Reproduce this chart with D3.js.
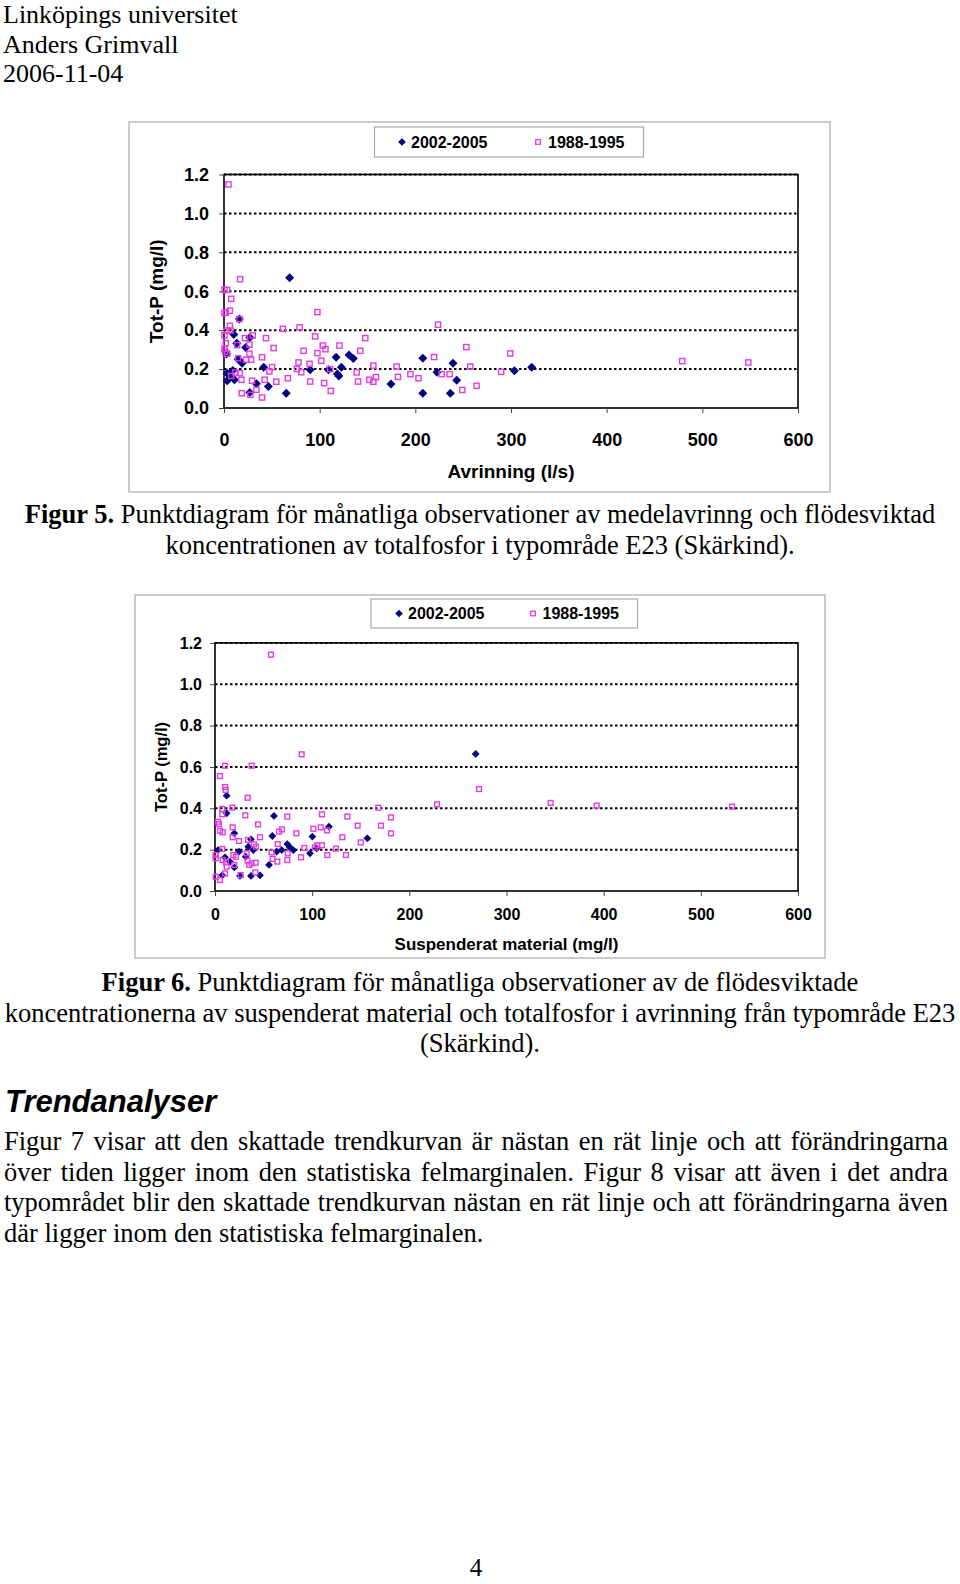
<!DOCTYPE html>
<html lang="sv">
<head>
<meta charset="UTF-8">
<title>Figur 5 och 6 - Skärkind</title>
<script src="https://d3js.org/d3.v7.min.js"></script>
<style>
  body { margin: 0; background: #fff; width: 960px; height: 1584px; position: relative; overflow: hidden; }
  svg { position: absolute; left: 0; top: 0; }
  .line {
    position: absolute; left: 4px; width: 944px;
    font: 26.5px 'Liberation Serif', 'Times New Roman', serif;
    line-height: 30px; height: 30px; white-space: nowrap;
    text-align: justify; text-align-last: justify; color: #000;
  }
  .line.last { text-align-last: left; }
</style>
</head>
<body>
<div id="page"></div>
<script>
// axis ticks and legend
const xTicks = [0, 100, 200, 300, 400, 500, 600];
const yTicks = [0, 0.2, 0.4, 0.6, 0.8, 1.0, 1.2];
const seriesNames = ["2002-2005", "1988-1995"];

// Figur 5: avrinning (l/s) vs Tot-P (mg/l)
const fig5Recent = [[3.3,0.140],[6.8,0.162],[9.2,0.193],[10.9,0.145],[3.3,0.179],[2.6,0.277],[10.2,0.378],[16.1,0.457],
  [13.3,0.333],[22.7,0.311],[27.0,0.362],[14.8,0.251],[18.9,0.230],[26.9,0.080],[33.9,0.124],[41.5,0.210],[46.4,0.110],
  [65.1,0.076],[68.6,0.669],[90.1,0.196],[109.2,0.196],[117.2,0.261],[118.5,0.175],[120.0,0.165],[122.7,0.210],
  [130.7,0.273],[135.2,0.255],[174.5,0.123],[207.8,0.256],[207.8,0.076],[222.7,0.184],[236.6,0.076],[239.4,0.230],
  [243.2,0.143],[303.6,0.191],[321.6,0.210]];
const fig5Early = [[4.7,1.149],[0.5,0.607],[3.3,0.607],[16.8,0.662],[7.5,0.561],[0.5,0.488],[1.9,0.491],[6.1,0.500],
  [16.1,0.457],[6.1,0.422],[2.6,0.398],[6.8,0.398],[0.5,0.373],[1.9,0.333],[0.5,0.304],[1.2,0.290],[3.3,0.279],
  [13.7,0.323],[22.0,0.359],[30.0,0.373],[26.6,0.326],[26.6,0.279],[28.3,0.248],[23.1,0.248],[14.8,0.256],[7.5,0.165],
  [12.0,0.183],[16.5,0.179],[18.2,0.145],[18.6,0.076],[27.6,0.068],[29.3,0.140],[33.9,0.094],[39.8,0.054],[39.8,0.261],
  [43.9,0.359],[51.9,0.308],[42.5,0.145],[47.4,0.188],[50.2,0.210],[54.7,0.135],[61.6,0.407],[66.8,0.153],[76.2,0.200],
  [77.9,0.234],[79.0,0.414],[80.7,0.184],[83.2,0.294],[89.4,0.227],[90.1,0.136],[95.3,0.368],[97.7,0.282],[97.7,0.493],
  [101.6,0.243],[103.3,0.321],[106.1,0.302],[104.7,0.128],[110.9,0.200],[111.6,0.088],[120.7,0.321],[138.7,0.183],
  [140.1,0.136],[142.5,0.294],[147.7,0.359],[151.9,0.145],[156.1,0.218],[156.1,0.135],[158.9,0.159],[180.4,0.213],
  [181.8,0.160],[194.9,0.174],[203.3,0.153],[219.6,0.262],[223.7,0.428],[227.6,0.174],[235.9,0.174],[249.1,0.093],
  [253.3,0.313],[257.5,0.213],[264.0,0.114],[289.7,0.186],[299.2,0.280],[479.0,0.241],[548.1,0.234]];

// Figur 6: suspenderat material (mg/l) vs Tot-P (mg/l)
const fig6Recent = [[12.0,0.461],[12.0,0.376],[19.9,0.279],[60.7,0.363],[59.0,0.266],[3.1,0.198],[7.5,0.076],[10.3,0.163],
  [15.4,0.142],[19.9,0.114],[24.7,0.190],[25.7,0.073],[31.6,0.166],[34.3,0.214],[37.0,0.250],[39.5,0.198],[37.0,0.073],
  [46.3,0.076],[55.6,0.126],[63.5,0.190],[68.6,0.198],[74.4,0.227],[77.2,0.211],[80.6,0.198],[97.8,0.182],[100.2,0.263],
  [104.6,0.206],[117.3,0.311],[156.8,0.255],[268.3,0.663]];
const fig6Early = [[57.6,1.143],[89.2,0.661],[10.3,0.606],[37.7,0.606],[5.1,0.556],[10.3,0.503],[11.0,0.489],[33.6,0.451],
  [17.8,0.403],[7.5,0.397],[7.5,0.371],[31.2,0.366],[44.3,0.322],[74.4,0.360],[3.1,0.335],[4.1,0.324],[5.1,0.292],
  [7.9,0.284],[18.2,0.308],[18.2,0.260],[24.7,0.242],[34.0,0.247],[40.1,0.226],[42.2,0.214],[46.3,0.260],[65.9,0.287],
  [69.0,0.298],[64.5,0.227],[83.7,0.279],[91.9,0.208],[88.5,0.163],[101.2,0.301],[102.9,0.210],[105.3,0.221],
  [108.8,0.308],[110.1,0.371],[115.3,0.293],[110.0,0.221],[115.6,0.174],[124.5,0.205],[131.0,0.260],[134.8,0.174],
  [136.2,0.360],[146.8,0.316],[150.0,0.235],[168.0,0.403],[170.8,0.316],[181.1,0.356],[181.1,0.279],
  [0.7,0.158],[0.7,0.174],[7.5,0.203],[0.7,0.069],[5.1,0.053],[10.3,0.085],[7.9,0.150],[11.3,0.139],[12.0,0.118],
  [18.9,0.174],[19.9,0.126],[21.6,0.166],[26.4,0.077],[32.6,0.182],[33.6,0.147],[35.3,0.126],[37.7,0.134],[41.9,0.137],
  [41.5,0.090],[58.3,0.187],[59.3,0.155],[64.1,0.142],[74.4,0.150],[74.8,0.182],
  [228.5,0.419],[271.7,0.493],[345.4,0.426],[392.8,0.413],[532.1,0.408]];

const NAVY = "#000080", PINK = "#e23ce2";
const serif = "'Liberation Serif','Times New Roman',serif";
const sans = "'Liberation Sans',Arial,sans-serif";

const svg = d3.select("#page").append("svg").attr("width", 960).attr("height", 1584);

// header
["Linköpings universitet", "Anders Grimvall", "2006-11-04"].forEach((t, i) => {
  svg.append("text").attr("x", 3).attr("y", 23 + i * 29.5)
    .attr("font-family", serif).attr("font-size", 26).text(t);
});

function diamond(r) { return `M0,${-r}L${r},0L0,${r}L${-r},0Z`; }

function drawChart(c) {
  const g = svg.append("g");
  const x = d3.scaleLinear().domain([0, 600]).range([c.left, c.right]);
  const y = d3.scaleLinear().domain([0, 1.2]).range([c.bottom, c.top]);

  g.append("rect").attr("x", c.frame[0]).attr("y", c.frame[1])
    .attr("width", c.frame[2] - c.frame[0]).attr("height", c.frame[3] - c.frame[1])
    .attr("fill", "#fff").attr("stroke", "#a8a8a8").attr("stroke-width", 1.2);

  // dotted gridlines
  g.append("g").selectAll("line").data(yTicks.filter(d => d > 0)).join("line")
    .attr("x1", x(0)).attr("x2", x(600))
    .attr("y1", d => y(d)).attr("y2", d => y(d))
    .attr("stroke", "#000").attr("stroke-width", 2).attr("stroke-dasharray", "2.5,2.5");

  g.append("rect").attr("x", x(0)).attr("y", y(1.2))
    .attr("width", x(600) - x(0)).attr("height", y(0) - y(1.2))
    .attr("fill", "none").attr("stroke", "#000").attr("stroke-width", 1.6);

  const xa = g.append("g").attr("transform", `translate(0,${c.bottom})`)
    .call(d3.axisBottom(x).tickValues(xTicks).tickSize(5).tickPadding(c.xPad).tickFormat(d3.format("d")));
  const ya = g.append("g").attr("transform", `translate(${c.left},0)`)
    .call(d3.axisLeft(y).tickValues(yTicks).tickSize(5).tickPadding(c.yPad).tickFormat(d3.format(".1f")));
  [xa, ya].forEach(a => {
    a.select(".domain").remove();
    a.attr("color", "#444");
    a.selectAll("text").attr("fill", "#000").attr("font-family", sans)
      .attr("font-weight", "bold").attr("font-size", c.tickFont);
  });

  g.append("text").attr("x", (c.left + c.right) / 2).attr("y", c.xTitleY)
    .attr("text-anchor", "middle").attr("font-family", sans).attr("font-weight", "bold")
    .attr("font-size", c.titleFont).text(c.xTitle);
  g.append("text").attr("transform", `translate(${c.yTitleX},${(c.top + c.bottom) / 2}) rotate(-90)`)
    .attr("text-anchor", "middle").attr("font-family", sans).attr("font-weight", "bold")
    .attr("font-size", c.yTitleFont).text("Tot-P (mg/l)");

  // points: 2002-2005 first, 1988-1995 drawn on top
  g.append("g").selectAll("path").data(c.recent).join("path")
    .attr("transform", d => `translate(${x(d[0])},${y(d[1])})`)
    .attr("d", diamond(c.dia)).attr("fill", NAVY);
  g.append("g").selectAll("rect").data(c.early).join("rect")
    .attr("x", d => x(d[0]) - c.sq / 2).attr("y", d => y(d[1]) - c.sq / 2)
    .attr("width", c.sq).attr("height", c.sq)
    .attr("fill", "none").attr("stroke", PINK).attr("stroke-width", 1.4);

  // legend
  const L = c.legend;
  g.append("rect").attr("x", L.x0).attr("y", L.y0).attr("width", L.x1 - L.x0).attr("height", L.y1 - L.y0)
    .attr("fill", "#fff").attr("stroke", "#a8a8a8").attr("stroke-width", 1.2);
  const cy = (L.y0 + L.y1) / 2;
  g.append("path").attr("transform", `translate(${L.m1},${cy})`).attr("d", diamond(3.8)).attr("fill", NAVY);
  g.append("rect").attr("x", L.m2 - 2.3).attr("y", cy - 2.3).attr("width", 4.6).attr("height", 4.6)
    .attr("fill", "none").attr("stroke", PINK).attr("stroke-width", 1.3);
  [[L.t1, seriesNames[0]], [L.t2, seriesNames[1]]].forEach(([tx, label]) => {
    g.append("text").attr("x", tx).attr("y", cy + 5.6).attr("font-family", sans)
      .attr("font-weight", "bold").attr("font-size", 16).text(label);
  });
}

drawChart({
  frame: [129, 122, 830, 492], left: 224, right: 798, top: 174.5, bottom: 408,
  xPad: 20, yPad: 10, tickFont: 18, titleFont: 19, yTitleFont: 19,
  xTitle: "Avrinning (l/s)", xTitleY: 478, yTitleX: 163,
  recent: fig5Recent, early: fig5Early, dia: 4.5, sq: 5.2,
  legend: { x0: 374.5, x1: 643.5, y0: 127, y1: 157, m1: 402, t1: 411, m2: 538, t2: 548 }
});

drawChart({
  frame: [135, 595, 825, 958], left: 215, right: 798, top: 642.9, bottom: 891,
  xPad: 13, yPad: 8, tickFont: 16, titleFont: 17, yTitleFont: 16.5,
  xTitle: "Suspenderat material (mg/l)", xTitleY: 950, yTitleX: 167,
  recent: fig6Recent, early: fig6Early, dia: 3.9, sq: 4.8,
  legend: { x0: 371, x1: 637.5, y0: 599, y1: 628, m1: 399, t1: 408, m2: 533, t2: 542.5 }
});

// captions
function caption(lines, y0, step) {
  lines.forEach((ln, i) => {
    const t = svg.append("text").attr("x", 480).attr("y", y0 + i * step)
      .attr("text-anchor", "middle").attr("font-family", serif).attr("font-size", 26.5);
    if (ln.bold) t.append("tspan").attr("font-weight", "bold").text(ln.bold);
    t.append("tspan").text(ln.text);
  });
}
caption([
  { bold: "Figur 5.", text: " Punktdiagram för månatliga observationer av medelavrinng och flödesviktad" },
  { text: "koncentrationen av totalfosfor i typområde E23 (Skärkind)." }
], 523, 31);
caption([
  { bold: "Figur 6.", text: " Punktdiagram för månatliga observationer av de flödesviktade" },
  { text: "koncentrationerna av suspenderat material och totalfosfor i avrinning från typområde E23" },
  { text: "(Skärkind)." }
], 991, 30.7);

svg.append("text").attr("x", 5).attr("y", 1112)
  .attr("font-family", sans).attr("font-weight", "bold").attr("font-style", "italic")
  .attr("font-size", 31).text("Trendanalyser");

// justified paragraph, one div per line
const para = [
  "Figur 7 visar att den skattade trendkurvan är nästan en rät linje och att förändringarna",
  "över tiden ligger inom den statistiska felmarginalen. Figur 8 visar att även i det andra",
  "typområdet blir den skattade trendkurvan nästan en rät linje och att förändringarna även",
  "där ligger inom den statistiska felmarginalen."
];
d3.select("body").selectAll("div.line").data(para).join("div")
  .attr("class", (d, i) => i === para.length - 1 ? "line last" : "line")
  .style("top", (d, i) => (1150 - 24 + i * 30.6) + "px")
  .text(d => d);

svg.append("text").attr("x", 476).attr("y", 1576).attr("text-anchor", "middle")
  .attr("font-family", serif).attr("font-size", 25).text("4");
</script>
</body>
</html>
